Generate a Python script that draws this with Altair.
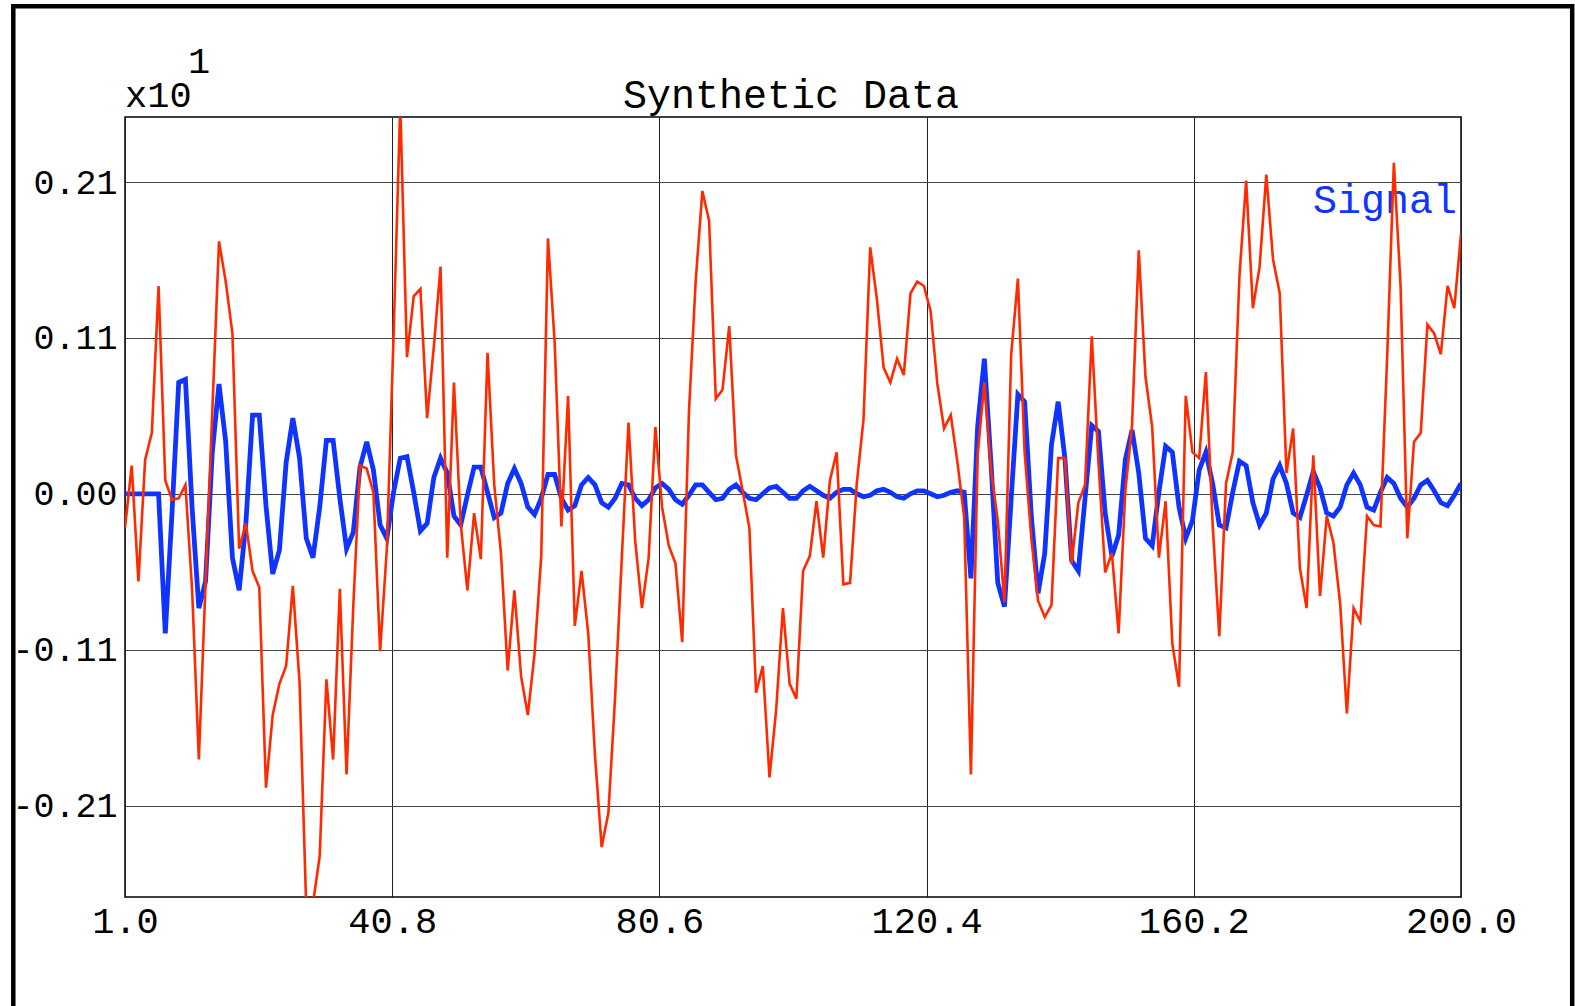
import altair as alt
import pandas as pd

# ---------------- data ----------------
x_values = list(range(1, 201))

signal = [
    0.0, 0.0, 0.0, 0.0, 0.0, 0.0, -0.094, -0.013, 0.075, 0.077,
    -0.010, -0.077, -0.059, 0.028, 0.074, 0.035, -0.043, -0.065, -0.020, 0.053,
    0.053, -0.008, -0.054, -0.038, 0.021, 0.051, 0.024, -0.030, -0.043, -0.009,
    0.036, 0.036, -0.003, -0.037, -0.026, 0.018, 0.035, 0.016, -0.021, -0.030,
    0.001, 0.024, 0.025, 0.001, -0.025, -0.020, 0.011, 0.024, 0.014, -0.015,
    -0.021, -0.001, 0.018, 0.018, 0.001, -0.016, -0.013, 0.007, 0.017, 0.007,
    -0.009, -0.014, -0.003, 0.013, 0.013, -0.003, -0.011, -0.008, 0.006, 0.011,
    0.006, -0.006, -0.009, -0.003, 0.007, 0.006, -0.003, -0.008, -0.004, 0.004,
    0.007, 0.003, -0.004, -0.007, -0.001, 0.006, 0.006, 0.001, -0.004, -0.003,
    0.003, 0.006, 0.001, -0.003, -0.004, 0.000, 0.004, 0.005, 0.001, -0.003,
    -0.003, 0.002, 0.005, 0.002, -0.001, -0.003, 0.001, 0.003, 0.003, 0.000,
    -0.002, -0.001, 0.002, 0.003, 0.001, -0.002, -0.003, 0.000, 0.002, 0.002,
    0.000, -0.002, -0.001, 0.001, 0.002, 0.001, -0.057, 0.045, 0.091, 0.020,
    -0.060, -0.076, -0.003, 0.067, 0.062, -0.015, -0.067, -0.040, 0.033, 0.062,
    0.024, -0.045, -0.052, -0.003, 0.046, 0.042, -0.013, -0.042, -0.028, 0.023,
    0.043, 0.014, -0.030, -0.035, 0.001, 0.032, 0.028, -0.009, -0.030, -0.018,
    0.016, 0.028, 0.007, -0.021, -0.023, 0.001, 0.022, 0.019, -0.006, -0.021,
    -0.013, 0.010, 0.019, 0.007, -0.013, -0.016, -0.001, 0.015, 0.004, -0.013,
    -0.015, -0.009, 0.006, 0.014, 0.006, -0.009, -0.011, 0.001, 0.011, 0.007,
    -0.003, -0.009, -0.003, 0.006, 0.009, 0.002, -0.006, -0.008, -0.001, 0.007,
]

noisy = [
    -0.023, 0.019, -0.059, 0.023, 0.041, 0.140, 0.009, -0.004, -0.003, 0.006,
    -0.065, -0.179, -0.060, 0.055, 0.170, 0.143, 0.108, -0.037, -0.020, -0.052,
    -0.063, -0.198, -0.149, -0.128, -0.116, -0.062, -0.127, -0.280, -0.276, -0.244,
    -0.125, -0.179, -0.064, -0.189, -0.076, 0.019, 0.017, 0.001, -0.106, -0.037,
    0.106, 0.262, 0.092, 0.133, 0.138, 0.051, 0.099, 0.153, -0.043, 0.075,
    -0.020, -0.065, -0.013, -0.044, 0.095, 0.006, -0.040, -0.119, -0.065, -0.123,
    -0.149, -0.108, -0.042, 0.172, 0.102, -0.022, 0.066, -0.089, -0.052, -0.094,
    -0.176, -0.238, -0.215, -0.137, -0.043, 0.048, -0.032, -0.077, -0.043, 0.045,
    -0.009, -0.035, -0.047, -0.100, 0.055, 0.143, 0.204, 0.184, 0.064, 0.070,
    0.113, 0.026, 0.002, -0.023, -0.134, -0.116, -0.191, -0.145, -0.077, -0.128,
    -0.138, -0.052, -0.042, -0.005, -0.043, 0.009, 0.028, -0.061, -0.060, 0.007,
    0.050, 0.166, 0.131, 0.085, 0.075, 0.091, 0.080, 0.135, 0.143, 0.140,
    0.123, 0.074, 0.044, 0.053, 0.021, -0.016, -0.189, 0.026, 0.075, 0.016,
    -0.018, -0.073, 0.094, 0.145, 0.028, -0.030, -0.072, -0.083, -0.075, 0.024,
    0.024, -0.047, -0.006, 0.006, 0.106, 0.021, -0.053, -0.040, -0.094, 0.002,
    0.046, 0.164, 0.079, 0.045, -0.043, -0.005, -0.101, -0.130, 0.066, 0.028,
    0.024, 0.082, -0.020, -0.096, 0.007, 0.028, 0.147, 0.211, 0.125, 0.153,
    0.215, 0.158, 0.135, 0.014, 0.044, -0.050, -0.077, 0.026, -0.069, -0.015,
    -0.033, -0.074, -0.148, -0.077, -0.086, -0.015, -0.021, -0.022, 0.092, 0.223,
    0.140, -0.030, 0.035, 0.041, 0.114, 0.108, 0.094, 0.140, 0.125, 0.175,
]

x_ticks = [1.0, 40.8, 80.6, 120.4, 160.2, 200.0]
y_ticks = [-0.21, -0.105, 0.0, 0.105, 0.21]
y_tick_labels = ["-0.21", "-0.11", "0.00", "0.11", "0.21"]
title_text = "Synthetic Data"
legend_text = "Signal"
exponent_base = "x10"
exponent_power = "1"

# ---------------- styling ----------------
FONT = "Courier New, Courier, Nimbus Mono PS, FreeMono, Liberation Mono"
BLUE = "#1034ff"
RED = "#ff2a00"
W, H = 1336, 780

df = pd.DataFrame({"x": x_values, "signal": signal, "noisy": noisy})

label_expr = ""
for v, lab in zip(y_ticks, y_tick_labels):
    label_expr += f"abs(datum.value - ({v})) < 1e-6 ? '{lab}' : "
label_expr += "''"

x_scale = alt.Scale(domain=[1, 200], nice=False, zero=False)
y_scale = alt.Scale(domain=[-0.2716, 0.2538], nice=False, zero=False)

x_axis = alt.Axis(values=x_ticks, format=".1f", labelFont=FONT, labelFontSize=37,
                  labelColor="black", labelPadding=6, ticks=False, domain=False,
                  grid=True, gridColor="#222222", gridWidth=1, title=None,
                  labelFlush=False, labelOverlap=False)
y_axis = alt.Axis(values=y_ticks, labelExpr=label_expr, labelFont=FONT, labelFontSize=35,
                  labelColor="black", labelPadding=8, ticks=False, domain=False,
                  grid=True, gridColor="#444444", gridWidth=1, title=None,
                  labelFlush=False, labelOverlap=False)

base = alt.Chart(df)

blue_line = base.mark_line(color=BLUE, strokeWidth=4.8, clip=True).encode(
    x=alt.X("x:Q", scale=x_scale, axis=x_axis),
    y=alt.Y("signal:Q", scale=y_scale, axis=y_axis),
)
red_line = base.mark_line(color=RED, strokeWidth=2.6, clip=True).encode(
    x=alt.X("x:Q", scale=x_scale),
    y=alt.Y("noisy:Q", scale=y_scale),
)

frame = alt.Chart(pd.DataFrame({"a": [0]})).mark_rect(
    filled=False, stroke="black", strokeWidth=4.5, clip=False
).encode(x=alt.value(-111.7), x2=alt.value(1447.2), y=alt.value(-110.8), y2=alt.value(900))

title = alt.Chart(pd.DataFrame({"t": [title_text]})).mark_text(
    align="center", baseline="alphabetic", font=FONT, fontSize=40, color="black", clip=False
).encode(x=alt.value(666), y=alt.value(-9.5), text="t:N")

legend = alt.Chart(pd.DataFrame({"t": [legend_text]})).mark_text(
    align="right", baseline="alphabetic", font=FONT, fontSize=40, color=BLUE, clip=False
).encode(x=alt.value(1332), y=alt.value(96), text="t:N")

exp_base = alt.Chart(pd.DataFrame({"t": [exponent_base]})).mark_text(
    align="left", baseline="alphabetic", font=FONT, fontSize=37, color="black", clip=False
).encode(x=alt.value(0), y=alt.value(-10), text="t:N")

exp_power = alt.Chart(pd.DataFrame({"t": [exponent_power]})).mark_text(
    align="left", baseline="alphabetic", font=FONT, fontSize=37, color="black", clip=False
).encode(x=alt.value(63), y=alt.value(-44), text="t:N")

chart = alt.layer(frame, title, legend, exp_base, exp_power, blue_line, red_line).properties(
    width=W,
    height=H,
    padding={"left": 125, "top": 117, "right": 114, "bottom": 109},
    autosize=alt.AutoSizeParams(type="none"),
    background="white",
).configure_view(stroke="black", strokeWidth=1.5)

chart.save("out.html", embed_options={"renderer": "svg", "actions": False})
